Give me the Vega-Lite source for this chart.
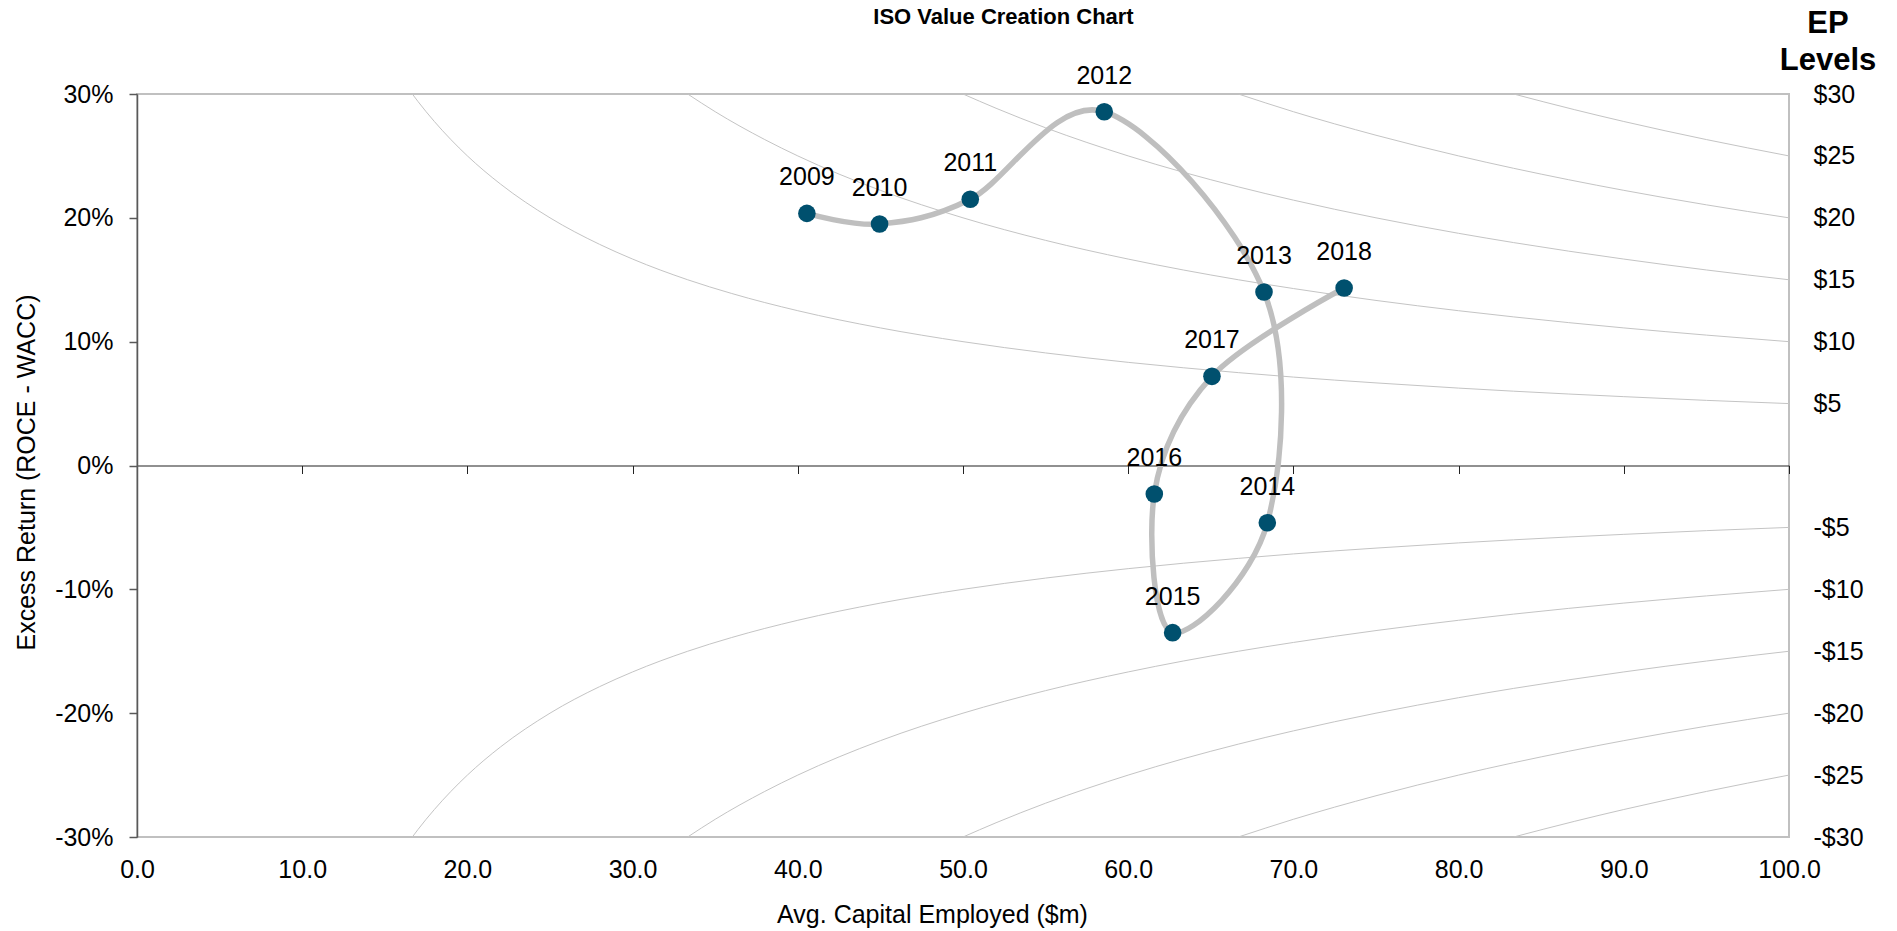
{
  "$schema": "https://vega.github.io/schema/vega-lite/v6.json",
  "width": 1652,
  "height": 743,
  "autosize": "none",
  "padding": {"left": 137, "top": 94, "right": 108, "bottom": 94},
  "background": "white",
  "config": {
    "view": {"stroke": "#c0c0c0", "strokeWidth": 2},
    "font": "Liberation Sans",
    "axis": {"labelFont": "Liberation Sans", "titleFont": "Liberation Sans", "labelColor": "#000", "titleColor": "#000", "grid": false},
    "text": {"font": "Liberation Sans"}
  },
  "datasets": {
    "curves": [
      {"ep": 5, "x": 16.667, "y": 30}, {"ep": 5, "x": 17, "y": 29.41}, {"ep": 5, "x": 18, "y": 27.78}, {"ep": 5, "x": 19, "y": 26.32}, {"ep": 5, "x": 20, "y": 25}, {"ep": 5, "x": 22, "y": 22.73}, {"ep": 5, "x": 25, "y": 20}, {"ep": 5, "x": 28, "y": 17.86}, {"ep": 5, "x": 30, "y": 16.67}, {"ep": 5, "x": 33.333, "y": 15}, {"ep": 5, "x": 36, "y": 13.89}, {"ep": 5, "x": 40, "y": 12.5}, {"ep": 5, "x": 45, "y": 11.11}, {"ep": 5, "x": 50, "y": 10}, {"ep": 5, "x": 55, "y": 9.09}, {"ep": 5, "x": 60, "y": 8.33}, {"ep": 5, "x": 66.667, "y": 7.5}, {"ep": 5, "x": 70, "y": 7.14}, {"ep": 5, "x": 75, "y": 6.67}, {"ep": 5, "x": 80, "y": 6.25}, {"ep": 5, "x": 83.333, "y": 6}, {"ep": 5, "x": 90, "y": 5.56}, {"ep": 5, "x": 95, "y": 5.26}, {"ep": 5, "x": 100, "y": 5},
      {"ep": 10, "x": 33.333, "y": 30}, {"ep": 10, "x": 35, "y": 28.57}, {"ep": 10, "x": 38, "y": 26.32}, {"ep": 10, "x": 40, "y": 25}, {"ep": 10, "x": 45, "y": 22.22}, {"ep": 10, "x": 50, "y": 20}, {"ep": 10, "x": 55, "y": 18.18}, {"ep": 10, "x": 60, "y": 16.67}, {"ep": 10, "x": 66.667, "y": 15}, {"ep": 10, "x": 70, "y": 14.29}, {"ep": 10, "x": 75, "y": 13.33}, {"ep": 10, "x": 80, "y": 12.5}, {"ep": 10, "x": 83.333, "y": 12}, {"ep": 10, "x": 90, "y": 11.11}, {"ep": 10, "x": 95, "y": 10.53}, {"ep": 10, "x": 100, "y": 10},
      {"ep": 15, "x": 50, "y": 30}, {"ep": 15, "x": 52, "y": 28.85}, {"ep": 15, "x": 55, "y": 27.27}, {"ep": 15, "x": 60, "y": 25}, {"ep": 15, "x": 66.667, "y": 22.5}, {"ep": 15, "x": 70, "y": 21.43}, {"ep": 15, "x": 75, "y": 20}, {"ep": 15, "x": 80, "y": 18.75}, {"ep": 15, "x": 83.333, "y": 18}, {"ep": 15, "x": 90, "y": 16.67}, {"ep": 15, "x": 95, "y": 15.79}, {"ep": 15, "x": 100, "y": 15},
      {"ep": 20, "x": 66.667, "y": 30}, {"ep": 20, "x": 70, "y": 28.57}, {"ep": 20, "x": 75, "y": 26.67}, {"ep": 20, "x": 80, "y": 25}, {"ep": 20, "x": 83.333, "y": 24}, {"ep": 20, "x": 90, "y": 22.22}, {"ep": 20, "x": 95, "y": 21.05}, {"ep": 20, "x": 100, "y": 20},
      {"ep": 25, "x": 83.333, "y": 30}, {"ep": 25, "x": 87, "y": 28.74}, {"ep": 25, "x": 90, "y": 27.78}, {"ep": 25, "x": 95, "y": 26.32}, {"ep": 25, "x": 100, "y": 25},
      {"ep": -5, "x": 16.667, "y": -30}, {"ep": -5, "x": 17, "y": -29.41}, {"ep": -5, "x": 18, "y": -27.78}, {"ep": -5, "x": 19, "y": -26.32}, {"ep": -5, "x": 20, "y": -25}, {"ep": -5, "x": 22, "y": -22.73}, {"ep": -5, "x": 25, "y": -20}, {"ep": -5, "x": 28, "y": -17.86}, {"ep": -5, "x": 30, "y": -16.67}, {"ep": -5, "x": 33.333, "y": -15}, {"ep": -5, "x": 36, "y": -13.89}, {"ep": -5, "x": 40, "y": -12.5}, {"ep": -5, "x": 45, "y": -11.11}, {"ep": -5, "x": 50, "y": -10}, {"ep": -5, "x": 55, "y": -9.09}, {"ep": -5, "x": 60, "y": -8.33}, {"ep": -5, "x": 66.667, "y": -7.5}, {"ep": -5, "x": 70, "y": -7.14}, {"ep": -5, "x": 75, "y": -6.67}, {"ep": -5, "x": 80, "y": -6.25}, {"ep": -5, "x": 83.333, "y": -6}, {"ep": -5, "x": 90, "y": -5.56}, {"ep": -5, "x": 95, "y": -5.26}, {"ep": -5, "x": 100, "y": -5},
      {"ep": -10, "x": 33.333, "y": -30}, {"ep": -10, "x": 35, "y": -28.57}, {"ep": -10, "x": 38, "y": -26.32}, {"ep": -10, "x": 40, "y": -25}, {"ep": -10, "x": 45, "y": -22.22}, {"ep": -10, "x": 50, "y": -20}, {"ep": -10, "x": 55, "y": -18.18}, {"ep": -10, "x": 60, "y": -16.67}, {"ep": -10, "x": 66.667, "y": -15}, {"ep": -10, "x": 70, "y": -14.29}, {"ep": -10, "x": 75, "y": -13.33}, {"ep": -10, "x": 80, "y": -12.5}, {"ep": -10, "x": 83.333, "y": -12}, {"ep": -10, "x": 90, "y": -11.11}, {"ep": -10, "x": 95, "y": -10.53}, {"ep": -10, "x": 100, "y": -10},
      {"ep": -15, "x": 50, "y": -30}, {"ep": -15, "x": 52, "y": -28.85}, {"ep": -15, "x": 55, "y": -27.27}, {"ep": -15, "x": 60, "y": -25}, {"ep": -15, "x": 66.667, "y": -22.5}, {"ep": -15, "x": 70, "y": -21.43}, {"ep": -15, "x": 75, "y": -20}, {"ep": -15, "x": 80, "y": -18.75}, {"ep": -15, "x": 83.333, "y": -18}, {"ep": -15, "x": 90, "y": -16.67}, {"ep": -15, "x": 95, "y": -15.79}, {"ep": -15, "x": 100, "y": -15},
      {"ep": -20, "x": 66.667, "y": -30}, {"ep": -20, "x": 70, "y": -28.57}, {"ep": -20, "x": 75, "y": -26.67}, {"ep": -20, "x": 80, "y": -25}, {"ep": -20, "x": 83.333, "y": -24}, {"ep": -20, "x": 90, "y": -22.22}, {"ep": -20, "x": 95, "y": -21.05}, {"ep": -20, "x": 100, "y": -20},
      {"ep": -25, "x": 83.333, "y": -30}, {"ep": -25, "x": 87, "y": -28.74}, {"ep": -25, "x": 90, "y": -27.78}, {"ep": -25, "x": 95, "y": -26.32}, {"ep": -25, "x": 100, "y": -25}
    ],
    "pts": [
      {"year": 2009, "label": "2009", "x": 40.55, "y": 20.36},
      {"year": 2010, "label": "2010", "x": 44.95, "y": 19.5},
      {"year": 2011, "label": "2011", "x": 50.44, "y": 21.5},
      {"year": 2012, "label": "2012", "x": 58.55, "y": 28.57},
      {"year": 2013, "label": "2013", "x": 68.22, "y": 14.01},
      {"year": 2014, "label": "2014", "x": 68.42, "y": -4.62},
      {"year": 2015, "label": "2015", "x": 62.69, "y": -13.5},
      {"year": 2016, "label": "2016", "x": 61.58, "y": -2.3},
      {"year": 2017, "label": "2017", "x": 65.07, "y": 7.2},
      {"year": 2018, "label": "2018", "x": 73.07, "y": 14.33}
    ]
  },
  "resolve": {"axis": {"x": "independent", "y": "independent"}},
  "layer": [
    {
      "data": {"name": "curves"},
      "mark": {"type": "line", "interpolate": "monotone", "color": "#c4c4c4", "strokeWidth": 1, "clip": true},
      "encoding": {
        "x": {"field": "x", "type": "quantitative", "scale": {"domain": [0, 100], "nice": false, "zero": false},
          "axis": {"orient": "bottom", "values": [0, 10, 20, 30, 40, 50, 60, 70, 80, 90, 100], "format": ".1f", "ticks": false, "tickSize": 0, "domain": false, "labelFontSize": 25, "labelPadding": 20, "labelFlush": false, "labelOverlap": false,
            "title": "Avg. Capital Employed ($m)", "titleFontSize": 25, "titleFontWeight": "normal", "titleX": 795, "titleY": 85, "titleBaseline": "alphabetic", "titleAlign": "center"}},
        "y": {"field": "y", "type": "quantitative", "scale": {"domain": [-30, 30], "nice": false, "zero": false},
          "axis": {"orient": "left", "values": [-30, -20, -10, 0, 10, 20, 30], "labelExpr": "datum.value + '%'", "labelFontSize": 25, "labelPadding": 16, "tickSize": 8, "tickColor": "#595959", "tickWidth": 1.5, "domainColor": "#595959", "domainWidth": 1.5, "labelFlush": false, "labelOverlap": false,
            "title": "Excess Return (ROCE - WACC)", "titleFontSize": 25, "titleFontWeight": "normal", "titleX": -111, "titleY": 378, "titleAngle": 270, "titleBaseline": "middle", "titleAlign": "center"}},
        "detail": {"field": "ep", "type": "nominal"}
      }
    },
    {
      "data": {"name": "pts"},
      "mark": {"type": "line", "interpolate": "cardinal", "tension": 0, "color": "#bfbfbf", "strokeWidth": 5.5},
      "encoding": {
        "x": {"field": "x", "type": "quantitative", "scale": {"domain": [0, 100], "nice": false, "zero": false},
          "axis": {"orient": "bottom", "offset": -371.5, "values": [0, 10, 20, 30, 40, 50, 60, 70, 80, 90, 100], "labels": false, "ticks": true, "tickSize": 8, "tickColor": "#222", "tickWidth": 1, "domainColor": "#222", "domainWidth": 1.2, "title": null}},
        "y": {"field": "y", "type": "quantitative", "scale": {"domain": [-30, 30], "nice": false, "zero": false},
          "axis": {"orient": "right", "values": [-30, -25, -20, -15, -10, -5, 0, 5, 10, 15, 20, 25, 30], "labelExpr": "datum.value == 0 ? '' : (datum.value < 0 ? '-$' + abs(datum.value) : '$' + datum.value)", "ticks": false, "tickSize": 0, "domain": false, "labelPadding": 24, "labelFontSize": 25, "labelFlush": false, "labelOverlap": false,
            "title": ["EP", "Levels"], "titleAngle": 0, "titleFontSize": 31, "titleFontWeight": "bold", "titleX": 38.5, "titleY": -62, "titleAlign": "center", "titleBaseline": "alphabetic", "titleLineHeight": 37}},
        "order": {"field": "year", "type": "quantitative"}
      }
    },
    {
      "data": {"name": "pts"},
      "mark": {"type": "circle", "color": "#00506e", "opacity": 1, "size": 310},
      "encoding": {
        "x": {"field": "x", "type": "quantitative", "scale": {"domain": [0, 100], "nice": false, "zero": false},
          "axis": {"orient": "top", "domain": false, "ticks": false, "tickSize": 0, "labels": false,
            "title": "ISO Value Creation Chart", "titleFontSize": 22, "titleFontWeight": "bold", "titleX": 866, "titleY": -78, "titleBaseline": "middle", "titleAlign": "center"}},
        "y": {"field": "y", "type": "quantitative", "scale": {"domain": [-30, 30], "nice": false, "zero": false}, "axis": null}
      }
    },
    {
      "data": {"name": "pts"},
      "mark": {"type": "text", "dy": -36, "baseline": "middle", "align": "center", "fontSize": 25, "color": "#000"},
      "encoding": {
        "x": {"field": "x", "type": "quantitative", "scale": {"domain": [0, 100], "nice": false, "zero": false}, "axis": null},
        "y": {"field": "y", "type": "quantitative", "scale": {"domain": [-30, 30], "nice": false, "zero": false}, "axis": null},
        "text": {"field": "label", "type": "nominal"}
      }
    }
  ]
}
